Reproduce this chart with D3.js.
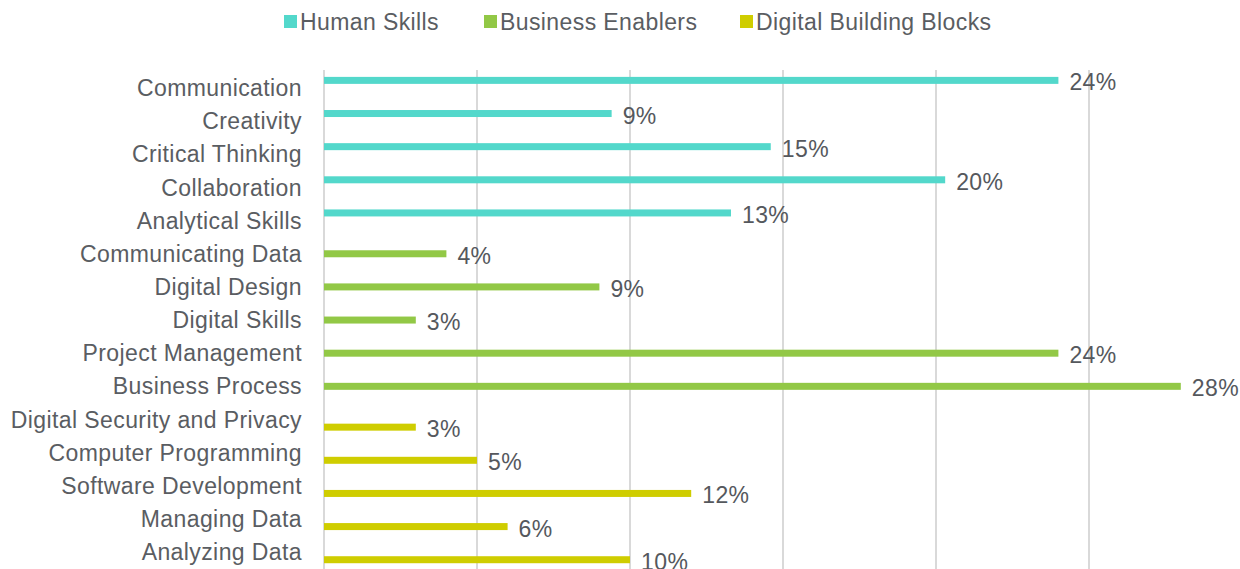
<!DOCTYPE html>
<html>
<head>
<meta charset="utf-8">
<script src="https://cdn.jsdelivr.net/npm/d3@7"></script>
<style>
  body { margin: 0; background: #fff; }
  svg { display: block; font-family: "Liberation Sans", Arial, sans-serif; }
</style>
</head>
<body>
<div id="chart"></div>
<script>
const seriesNames = ["Human Skills", "Business Enablers", "Digital Building Blocks"];
const seriesColors = ["#53d8cb", "#92c846", "#cfcd00"];

const categories = [
  "Communication", "Creativity", "Critical Thinking", "Collaboration", "Analytical Skills",
  "Communicating Data", "Digital Design", "Digital Skills", "Project Management", "Business Process",
  "Digital Security and Privacy", "Computer Programming", "Software Development", "Managing Data", "Analyzing Data"
];
const categorySeries = [
  "Human Skills", "Human Skills", "Human Skills", "Human Skills", "Human Skills",
  "Business Enablers", "Business Enablers", "Business Enablers", "Business Enablers", "Business Enablers",
  "Digital Building Blocks", "Digital Building Blocks", "Digital Building Blocks", "Digital Building Blocks", "Digital Building Blocks"
];
const values = [0.24, 0.094, 0.146, 0.203, 0.133, 0.04, 0.09, 0.03, 0.24, 0.28, 0.03, 0.05, 0.12, 0.06, 0.10];
const gridTicks = [0, 0.05, 0.10, 0.15, 0.20, 0.25];

const width = 1240, height = 569;
const fontSize = 23, spacing = 0.4;
const svg = d3.select("#chart").append("svg").attr("width", width).attr("height", height);

const x = d3.scaleLinear().domain([0, 0.25]).range([324, 1089]);
const y0 = d3.scaleBand().domain(categories).range([71.5, 568.6]).padding(0);
const y1 = d3.scaleBand().domain(seriesNames).range([0, y0.bandwidth()])
  .paddingInner(0.09).paddingOuter(0.7);
const color = d3.scaleOrdinal().domain(seriesNames).range(seriesColors);

// gridlines
svg.append("g").selectAll("line").data(gridTicks).join("line")
  .attr("x1", d => x(d)).attr("x2", d => x(d))
  .attr("y1", 70).attr("y2", height)
  .attr("stroke", "#d9d9d9").attr("stroke-width", 2);

// category labels
const yAxis = svg.append("g").attr("transform", "translate(302,0)")
  .call(d3.axisLeft(y0).tickSize(0).tickPadding(0));
yAxis.select(".domain").remove();
yAxis.selectAll("text")
  .attr("font-family", "Liberation Sans, Arial, sans-serif")
  .attr("font-size", fontSize).attr("letter-spacing", spacing)
  .attr("fill", "#5a5d62").attr("dy", "0.35em");

const rows = categories.map((c, i) => ({ cat: c, series: categorySeries[i], value: values[i] }));

svg.append("g").selectAll("rect").data(rows).join("rect")
  .attr("x", x(0))
  .attr("y", d => y0(d.cat) + y1(d.series))
  .attr("width", d => x(d.value) - x(0))
  .attr("height", y1.bandwidth())
  .attr("fill", d => color(d.series));

svg.append("g").selectAll("text").data(rows).join("text")
  .attr("x", d => x(d.value) + 11)
  .attr("y", d => y0(d.cat) + y1(d.series) + y1.bandwidth() / 2 + 2)
  .attr("dy", "0.35em")
  .attr("font-size", fontSize).attr("letter-spacing", spacing).attr("fill", "#55585d")
  .text(d => d3.format(".0%")(d.value));

// legend
const legendX = [284, 484, 740];
const legend = svg.append("g");
seriesNames.forEach((s, i) => {
  const item = legend.append("g").attr("transform", `translate(${legendX[i]},15)`);
  item.append("rect").attr("width", 13).attr("height", 13).attr("fill", color(s));
  item.append("text").attr("x", 16).attr("y", 6.5).attr("dy", "0.35em")
    .attr("font-size", fontSize).attr("letter-spacing", spacing)
    .attr("fill", "#5a5d62").text(s);
});
</script>
</body>
</html>
